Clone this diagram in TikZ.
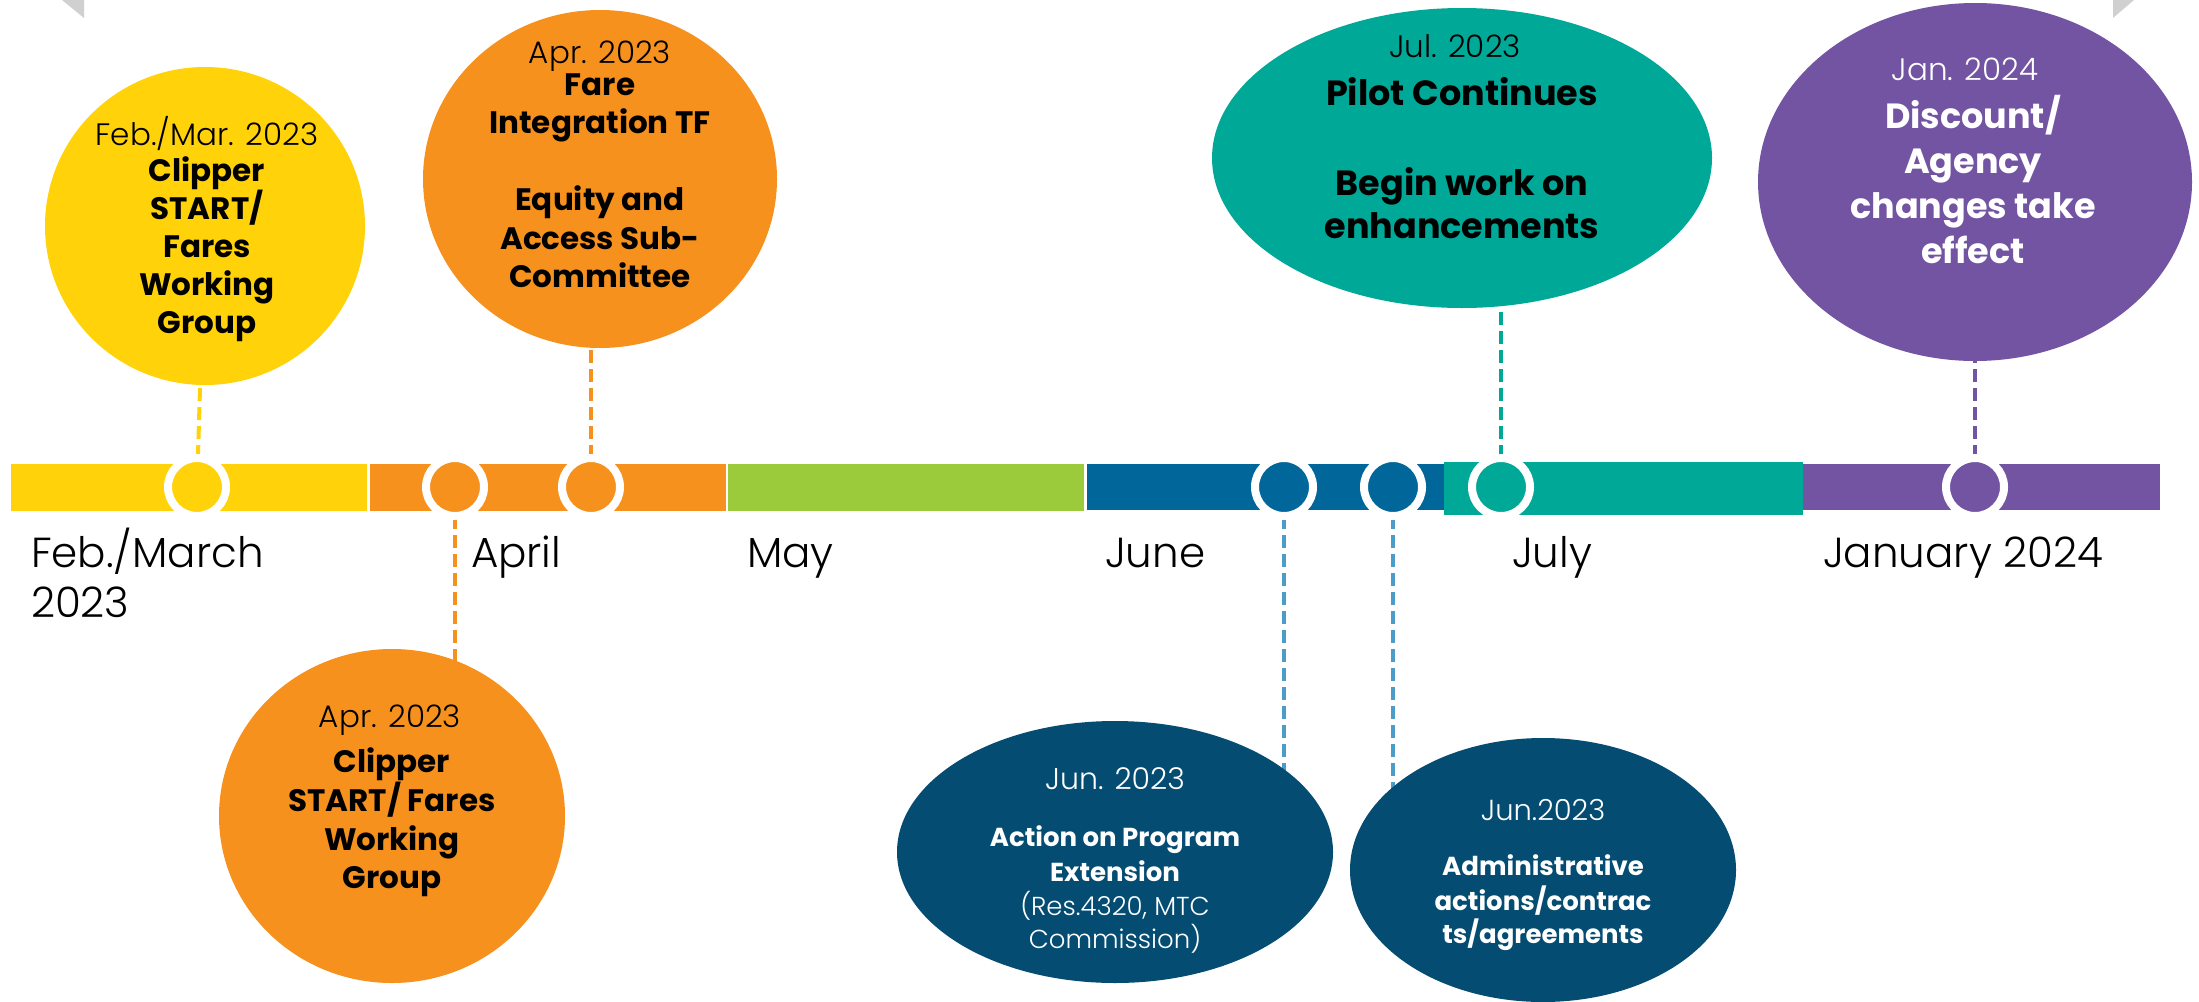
\documentclass[tikz,border=0pt]{standalone}
\usepackage{fontspec}
\setmainfont{Poppins}
\newfontfamily\plight{Poppins Light}
\usetikzlibrary{shapes.geometric,backgrounds}
\definecolor{cyel}{HTML}{FFD20A}
\definecolor{corg}{HTML}{F7911E}
\definecolor{cgrn}{HTML}{9BCB3B}
\definecolor{cblu}{HTML}{016699}
\definecolor{cnavy}{HTML}{044C72}
\definecolor{cteal}{HTML}{00A898}
\definecolor{cpur}{HTML}{7254A2}
\definecolor{cdash}{HTML}{4B9CC8}
\definecolor{cgray}{HTML}{D0D0D0}
\begin{document}
\begin{tikzpicture}[x=1pt,y=-1pt,
  bubble/.style={ellipse, fill=#1, draw=none, inner sep=0pt, outer sep=0pt},
  marker/.style={circle, fill=#1, draw=white, line width=8pt, minimum size=58pt, inner sep=0pt, outer sep=0pt},
  conn/.style={draw=#1, line width=4pt, dash pattern=on 13pt off 6pt},
  ln/.style={anchor=base, inner sep=0pt, outer sep=0pt},
  reg/.style={font=\fontsize{#1}{#1}\selectfont\plight},
  bld/.style={font=\fontsize{#1}{#1}\selectfont\bfseries},
  month/.style={anchor=base west, inner sep=0pt, outer sep=0pt, font=\fontsize{42}{42}\selectfont\plight}
]
\useasboundingbox (0,0) rectangle (2199,1001);

% corner decorations
\fill[cgray] (62,0) -- (84,0) -- (84,18) -- cycle;
\fill[cgray] (2113,0) -- (2134,0) -- (2113,18) -- cycle;

% timeline bar
\fill[cyel] (11,464) rectangle (367,511);
\fill[corg] (370,464) rectangle (726,511);
\fill[cgrn] (728,464) rectangle (1084,511);
\fill[cblu] (1087,464) rectangle (1444,510);
\fill[cteal] (1444,462) rectangle (1803,515);
\fill[cpur] (1803,464) rectangle (2160,510);

% bubbles
\node[bubble=cyel, minimum width=320pt, minimum height=318pt] (c1) at (205,226) {};
\node[bubble=corg, minimum width=354pt, minimum height=338pt] (c2) at (600,179) {};
\node[bubble=corg, minimum width=346pt, minimum height=334pt] (c3) at (392,816) {};
\node[bubble=cnavy, minimum width=436pt, minimum height=262pt] (e1) at (1115,852) {};
\node[bubble=cnavy, minimum width=386pt, minimum height=264pt] (e2) at (1543,870) {};
\node[bubble=cteal, minimum width=500pt, minimum height=300pt] (e3) at (1462,158) {};
\node[bubble=cpur, minimum width=434pt, minimum height=358pt] (c7) at (1975,182) {};

% markers
\node[marker=cyel] (m1) at (197,487) {};
\node[marker=corg] (m2) at (455,487) {};
\node[marker=corg] (m3) at (591,487) {};
\node[marker=cblu] (m4) at (1284,487) {};
\node[marker=cblu] (m5) at (1393,487) {};
\node[marker=cteal] (m6) at (1501,487) {};
\node[marker=cpur] (m7) at (1975,487) {};

% connectors
\begin{scope}[on background layer]
\draw[conn=cyel] (m1) -- (c1);
\draw[conn=corg] (m3) -- (m3 |- c2);
\draw[conn=corg] (m2) -- (m2 |- c3);
\draw[conn=cdash] (m4) -- (m4 |- e1);
\draw[conn=cdash] (m5) -- (m5 |- e2);
\draw[conn=cteal] (m6) -- (m6 |- e3);
\draw[conn=cpur] (m7) -- (c7);
\end{scope}

% month labels
\node[month] (l1) at (31,567) {Feb./March};
\node[month] (l1b) at (31,617) {2023};
\node[month] (l2) at (471,567) {April};
\node[month] (l3) at (747,567) {May};
\node[month] (l4) at (1105,567) {June};
\node[month] (l5) at (1512,567) {July};
\node[month] (l6) at (1823,567) {January 2024};

% yellow bubble text
\node[ln, reg=31] (t1a) at (207,145) {Feb./Mar. 2023};
\node[ln, bld=31] (t1b) at (207,181) {Clipper};
\node[ln, bld=31] (t1c) at (207,219) {START/};
\node[ln, bld=31] (t1d) at (207,257) {Fares};
\node[ln, bld=31] (t1e) at (207,295) {Working};
\node[ln, bld=31] (t1f) at (207,333) {Group};

% orange upper text
\node[ln, reg=31] (t2a) at (600,63) {Apr. 2023};
\node[ln, bld=31] (t2b) at (600,95) {Fare};
\node[ln, bld=31] (t2c) at (600,133) {Integration TF};
\node[ln, bld=31] (t2d) at (600,210) {Equity and};
\node[ln, bld=31] (t2e) at (600,249) {Access Sub-};
\node[ln, bld=31] (t2f) at (600,287) {Committee};

% orange lower text
\node[ln, reg=31] (t3a) at (390,727) {Apr. 2023};
\node[ln, bld=31] (t3b) at (392,772) {Clipper};
\node[ln, bld=31] (t3c) at (392,811) {START/ Fares};
\node[ln, bld=31] (t3d) at (392,850) {Working};
\node[ln, bld=31] (t3e) at (392,888) {Group};

% navy ellipse 1
\begin{scope}[text=white]
\node[ln, reg=30] (t4a) at (1115,789) {Jun. 2023};
\node[ln, bld=26] (t4b) at (1115,846) {Action on Program};
\node[ln, bld=26] (t4c) at (1115,881) {Extension};
\node[ln, reg=26] (t4d) at (1115,915) {(Res.4320, MTC};
\node[ln, reg=26] (t4e) at (1115,948) {Commission)};

% navy ellipse 2
\node[ln, reg=29] (t5a) at (1543,820) {Jun.2023};
\node[ln, bld=26] (t5b) at (1543,875) {Administrative};
\node[ln, bld=26] (t5c) at (1543,910) {actions/contrac};
\node[ln, bld=26] (t5d) at (1543,943) {ts/agreements};

% purple text
\node[ln, reg=31] (t7a) at (1965,80) {Jan. 2024};
\node[ln, bld=35] (t7b) at (1973,128) {Discount/};
\node[ln, bld=35] (t7c) at (1973,173) {Agency};
\node[ln, bld=35] (t7d) at (1973,218) {changes take};
\node[ln, bld=35] (t7e) at (1973,263) {effect};
\end{scope}

% teal text
\node[ln, reg=31] (t6a) at (1455,57) {Jul. 2023};
\node[ln, bld=35] (t6b) at (1462,105) {Pilot Continues};
\node[ln, bld=35] (t6c) at (1462,195) {Begin work on};
\node[ln, bld=35] (t6d) at (1462,238) {enhancements};
\end{tikzpicture}
\end{document}
